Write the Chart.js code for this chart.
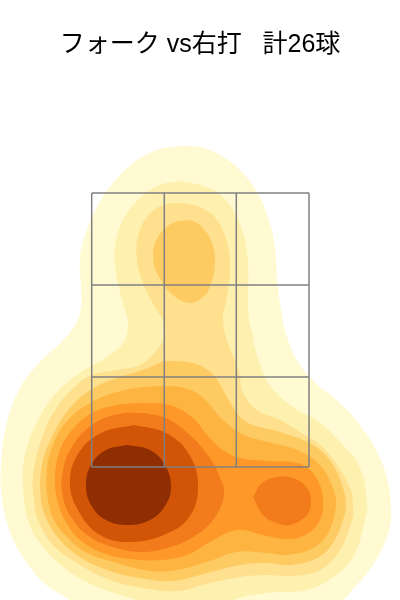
<!DOCTYPE html>
<html lang="ja">
<head>
<meta charset="utf-8">
<title>フォーク vs右打</title>
<script src="https://cdn.jsdelivr.net/npm/chart.js@4"></script>
<style>
    html, body { margin: 0; padding: 0; background: #fff; }
    canvas { display: block; }
</style>
</head>
<body>
<canvas id="zoneChart" width="400" height="600"></canvas>
<script>
const chartTitle = 'フォーク vs右打   計26球';

// Strike zone cell edges
const zoneX = [-1.083, -0.357, 0.363, 1.09];
const zoneY = [1.33, 2.23, 3.15, 4.07];

// Density contours, [x, y] around each band
const band1 = [[-0.20,4.54],[-0.43,4.50],[-0.67,4.37],[-0.87,4.17],[-1.03,3.93],[-1.14,3.67],[-1.20,3.43],[-1.19,3.13],[-1.19,2.93],[-1.25,2.75],[-1.40,2.57],[-1.63,2.35],[-1.80,2.12],[-1.93,1.78],[-1.99,1.35],[-1.98,1.02],[-1.90,0.68],[-1.77,0.43],[-1.57,0.18],[-1.30,0],[-1.05,-0.14],[-0.70,-0.25],[0.80,-0.25],[1.20,-0.14],[1.43,0],[1.55,0.13],[1.68,0.28],[1.80,0.47],[1.89,0.70],[1.91,0.92],[1.87,1.22],[1.77,1.48],[1.60,1.75],[1.40,1.97],[1.18,2.15],[1.00,2.35],[0.87,2.63],[0.80,2.97],[0.77,3.23],[0.75,3.53],[0.68,3.83],[0.57,4.08],[0.40,4.30],[0.20,4.45],[0,4.53]];
const band2 = [[-0.18,4.19],[-0.40,4.15],[-0.60,4.02],[-0.77,3.80],[-0.85,3.53],[-0.84,3.27],[-0.78,3.00],[-0.72,2.77],[-0.77,2.57],[-0.93,2.43],[-1.20,2.27],[-1.43,2.08],[-1.63,1.78],[-1.75,1.45],[-1.77,1.15],[-1.72,0.80],[-1.60,0.57],[-1.33,0.30],[-1.00,0.12],[-0.63,0],[-0.30,-0.12],[0.10,-0.12],[0.33,0],[0.67,0.07],[1.07,0.10],[1.33,0.23],[1.53,0.43],[1.65,0.80],[1.67,0.98],[1.60,1.32],[1.43,1.55],[1.20,1.77],[0.93,1.93],[0.72,2.12],[0.60,2.35],[0.52,2.67],[0.48,2.90],[0.48,3.37],[0.43,3.67],[0.33,3.90],[0.17,4.08],[0,4.15]];
const band3 = [[-0.18,3.97],[-0.37,3.95],[-0.53,3.83],[-0.62,3.63],[-0.63,3.40],[-0.57,3.17],[-0.45,2.93],[-0.35,2.75],[-0.37,2.60],[-0.43,2.50],[-0.60,2.35],[-0.83,2.30],[-1.08,2.25],[-1.23,2.15],[-1.43,1.93],[-1.58,1.62],[-1.67,1.25],[-1.66,1.00],[-1.62,0.80],[-1.47,0.55],[-1.23,0.37],[-0.90,0.20],[-0.57,0.12],[-0.23,0.09],[0.10,0.17],[0.40,0.23],[0.67,0.25],[0.93,0.24],[1.20,0.30],[1.40,0.50],[1.52,0.80],[1.53,0.95],[1.50,1.12],[1.37,1.35],[1.20,1.55],[1.00,1.68],[0.80,1.80],[0.57,1.90],[0.43,2.07],[0.40,2.22],[0.37,2.35],[0.28,2.57],[0.23,2.80],[0.27,3.03],[0.30,3.30],[0.28,3.53],[0.17,3.80],[0,3.93]];
const band4Top = [[-0.08,3.80],[-0.27,3.77],[-0.42,3.63],[-0.47,3.45],[-0.42,3.25],[-0.27,3.05],[-0.10,2.97],[0.02,3.02],[0.10,3.13],[0.15,3.37],[0.12,3.57],[0.02,3.73]];
const band4 = [[-0.36,2.39],[-0.57,2.30],[-0.83,2.22],[-1.08,2.11],[-1.30,1.92],[-1.47,1.65],[-1.58,1.35],[-1.59,1.00],[-1.53,0.80],[-1.40,0.60],[-1.20,0.43],[-0.93,0.30],[-0.60,0.22],[-0.27,0.19],[0.07,0.27],[0.40,0.35],[0.67,0.37],[0.90,0.35],[1.17,0.42],[1.33,0.57],[1.43,0.80],[1.46,0.95],[1.43,1.12],[1.33,1.35],[1.13,1.55],[0.80,1.68],[0.53,1.75],[0.40,1.83],[0.30,1.98],[0.22,2.12],[0.15,2.23],[0.03,2.33],[-0.13,2.38]];
const band5 = [[-0.35,2.14],[-0.57,2.13],[-0.83,2.08],[-1.08,1.98],[-1.30,1.82],[-1.45,1.60],[-1.53,1.30],[-1.52,1.00],[-1.45,0.78],[-1.33,0.63],[-1.13,0.47],[-0.83,0.37],[-0.50,0.29],[-0.23,0.30],[0.07,0.38],[0.37,0.48],[0.67,0.47],[0.87,0.45],[1.13,0.52],[1.28,0.67],[1.36,0.95],[1.33,1.12],[1.20,1.35],[0.97,1.50],[0.60,1.60],[0.40,1.67],[0.20,1.83],[0.10,1.95],[-0.03,2.07],[-0.20,2.13]];
const band6 = [[-0.57,1.97],[-0.83,1.95],[-1.08,1.87],[-1.28,1.70],[-1.41,1.47],[-1.45,1.20],[-1.42,0.97],[-1.34,0.78],[-1.20,0.60],[-0.97,0.47],[-0.70,0.41],[-0.40,0.40],[-0.13,0.45],[0.10,0.58],[0.37,0.70],[0.63,0.65],[0.87,0.61],[1.07,0.66],[1.20,0.80],[1.23,0.97],[1.20,1.15],[1.10,1.30],[0.97,1.37],[0.70,1.39],[0.40,1.42],[0.23,1.50],[0.07,1.65],[-0.07,1.82],[-0.30,1.95]];
const band7 = [[-0.55,1.87],[-0.82,1.86],[-1.08,1.75],[-1.27,1.55],[-1.37,1.30],[-1.37,1.03],[-1.27,0.80],[-1.10,0.63],[-0.87,0.53],[-0.60,0.48],[-0.33,0.52],[-0.07,0.63],[0.13,0.80],[0.24,1.05],[0.19,1.25],[0.07,1.46],[-0.10,1.65],[-0.32,1.81]];
const band7Right = [[0.53,1.03],[0.62,1.17],[0.77,1.23],[0.93,1.22],[1.07,1.12],[1.11,0.98],[1.07,0.85],[0.90,0.75],[0.77,0.77],[0.63,0.85]];
const band8 = [[-0.66,1.75],[-0.34,1.67],[-0.11,1.46],[-0.02,1.15],[-0.10,0.84],[-0.34,0.66],[-0.70,0.58],[-1.00,0.65],[-1.21,0.88],[-1.30,1.17],[-1.22,1.46],[-0.99,1.67]];
const band9 = [[-0.73,1.55],[-0.50,1.50],[-0.35,1.35],[-0.29,1.13],[-0.35,0.94],[-0.50,0.80],[-0.72,0.75],[-0.94,0.80],[-1.09,0.95],[-1.14,1.15],[-1.09,1.35],[-0.94,1.50]];

// Lowest band first
const bandList = [band1, band2, band3, band4, band4Top, band5, band6, band7, band7Right, band8, band9];
const bandColors = ['#fffad2', '#fef0ae', '#fee08f', '#fecb63', '#fecb63', '#feb441', '#fd9829', '#f27c1c', '#f27c1c', '#d25407', '#8f2e02'];

// Close the loop and turn the pairs into chart points
function toPoints(band) {
    const points = band.map(p => ({ x: p[0], y: p[1] }));
    points.push(points[0]);
    return points;
}

const datasets = [];

// Zone lines go on top
zoneX.forEach(x => {
    datasets.push({
        data: [{ x: x, y: zoneY[0] }, { x: x, y: zoneY[3] }],
        showLine: true,
        borderColor: '#808080',
        borderWidth: 1.5,
        pointRadius: 0
    });
});
zoneY.forEach(y => {
    datasets.push({
        data: [{ x: zoneX[0], y: y }, { x: zoneX[3], y: y }],
        showLine: true,
        borderColor: '#808080',
        borderWidth: 1.5,
        pointRadius: 0
    });
});

// Chart.js paints the last dataset first, so darkest goes in first
for (let i = bandList.length - 1; i >= 0; i--) {
    datasets.push({
        data: toPoints(bandList[i]),
        showLine: true,
        fill: 'shape',
        tension: 0.4,
        backgroundColor: bandColors[i],
        borderColor: bandColors[i],
        borderWidth: 0,
        pointRadius: 0
    });
}

new Chart(document.getElementById('zoneChart').getContext('2d'), {
    type: 'scatter',
    data: { datasets: datasets },
    options: {
        responsive: false,
        animation: false,
        layout: { padding: 0 },
        plugins: {
            legend: { display: false },
            tooltip: { enabled: false },
            title: {
                display: true,
                text: chartTitle,
                color: '#000',
                font: { family: "'Liberation Sans', 'Noto Sans CJK JP', sans-serif", size: 25, weight: 'normal' },
                padding: { top: 30, bottom: 20 }
            }
        },
        scales: {
            x: { display: false, min: -2, max: 2 },
            y: { display: false, min: 0, max: 5.2 }
        }
    }
});
</script>
</body>
</html>
